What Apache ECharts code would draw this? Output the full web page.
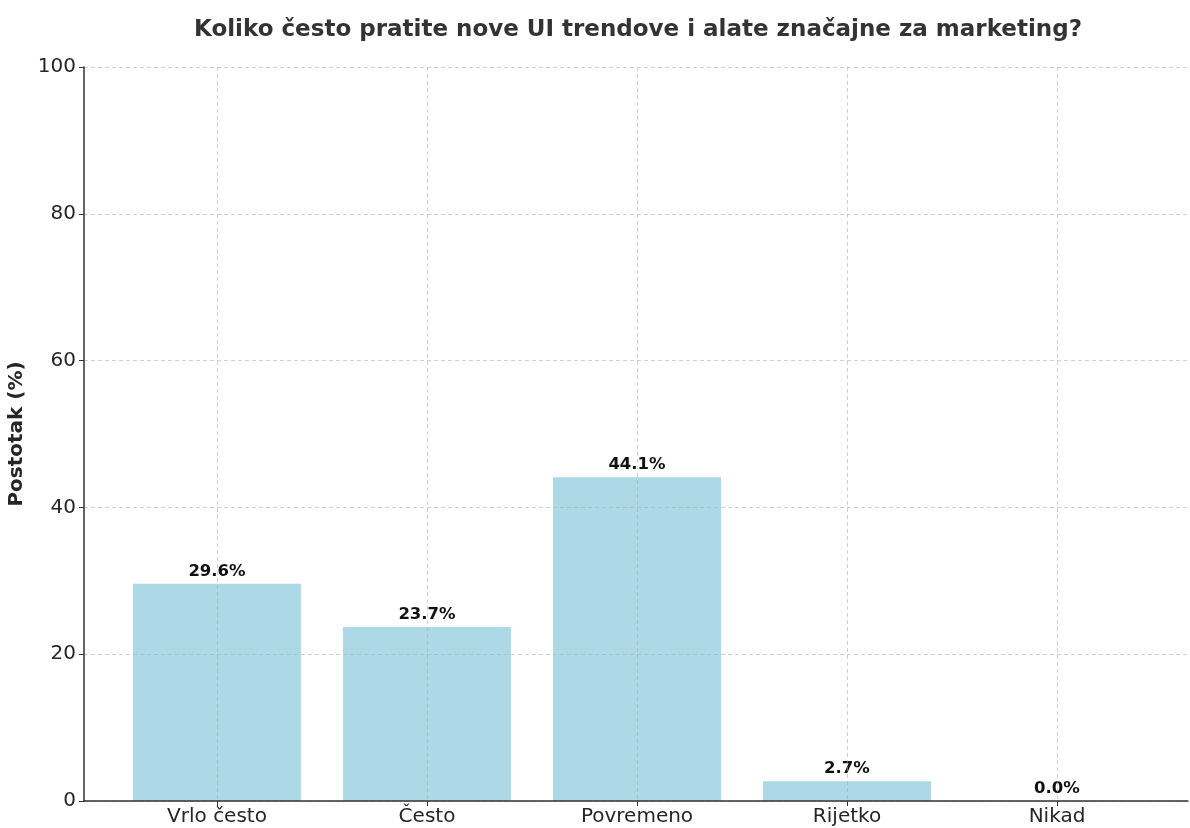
<!DOCTYPE html>
<html>
<head>
<meta charset="utf-8">
<script src="https://cdn.jsdelivr.net/npm/echarts@6/dist/echarts.min.js"></script>
<style>
  html, body { margin: 0; padding: 0; background: #fff; }
  #chart { width: 1190px; height: 828px; }
</style>
</head>
<body>
<div id="chart"></div>
<script>
// podaci
var categories = ["Vrlo često", "Često", "Povremeno", "Rijetko", "Nikad"];
var values = [29.6, 23.7, 44.1, 2.7, 0.0];
var yTicks = [0, 20, 40, 60, 80, 100];

var font = "DejaVu Sans";
var gridColor = "rgba(170,170,170,0.55)";

var myChart = echarts.init(document.getElementById("chart"));
myChart.setOption({
  animation: false,
  title: {
    text: "Koliko često pratite nove UI trendove i alate značajne za marketing?",
    left: 633,
    textAlign: "center",
    top: 14,
    textStyle: { fontFamily: font, fontSize: 23, fontWeight: "bold", color: "#333" }
  },
  grid: [
    // kategorije: centri stupaca od prvog do zadnjeg
    { left: 217, right: 133, top: 67, bottom: 27, outerBoundsMode: "none", containLabel: false },
    // okvir osi
    { left: 84, right: 2, top: 67, bottom: 27, outerBoundsMode: "none", containLabel: false }
  ],
  xAxis: [
    {
      gridIndex: 0,
      type: "category",
      data: categories,
      boundaryGap: false,
      z: 5,
      axisLine: { show: false },
      axisTick: { show: true, length: 5, lineStyle: { color: "#333" } },
      axisLabel: { fontFamily: font, fontSize: 20, color: "#262626", margin: 6 },
      splitLine: { show: true, lineStyle: { type: [4, 3], color: gridColor, width: 1 } }
    },
    {
      gridIndex: 1,
      type: "value",
      min: 0,
      max: 1,
      z: 7,
      axisLine: { show: true, onZero: false, lineStyle: { color: "#333", width: 1.5 } },
      axisTick: { show: false },
      axisLabel: { show: false },
      splitLine: { show: false }
    }
  ],
  yAxis: [
    {
      gridIndex: 0,
      type: "value",
      min: 0,
      max: 100,
      show: false
    },
    {
      gridIndex: 1,
      type: "value",
      min: 0,
      max: 100,
      interval: 20,
      z: 5,
      name: "Postotak (%)",
      nameLocation: "middle",
      nameGap: 53,
      nameTextStyle: { fontFamily: font, fontSize: 20, fontWeight: "bold", color: "#262626" },
      axisLine: { show: true, lineStyle: { color: "#333", width: 1.5 } },
      axisTick: { show: true, length: 5, lineStyle: { color: "#333" } },
      axisLabel: { fontFamily: font, fontSize: 20, color: "#262626", margin: 8 },
      splitLine: { show: true, lineStyle: { type: [4, 3], color: gridColor, width: 1 } }
    }
  ],
  series: [{
    type: "bar",
    xAxisIndex: 0,
    yAxisIndex: 0,
    data: values,
    barWidth: 168,
    clip: false,
    itemStyle: { color: "#ADD8E6" },
    label: {
      show: true,
      position: "top",
      distance: 4,
      fontFamily: font,
      fontSize: 16.5,
      fontWeight: "bold",
      color: "#111",
      formatter: function (p) { return p.value.toFixed(1) + "%"; }
    }
  }]
});
</script>
</body>
</html>
